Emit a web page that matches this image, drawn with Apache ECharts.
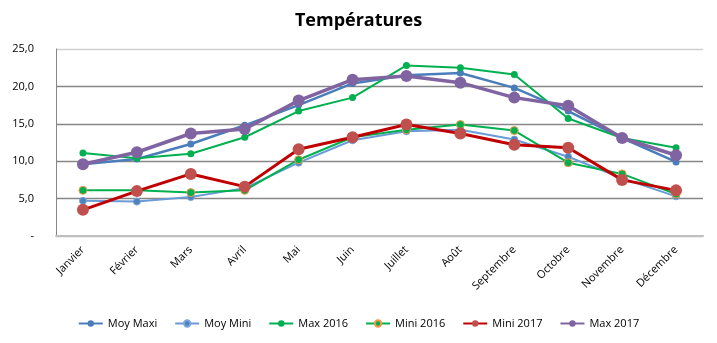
<!DOCTYPE html>
<html><head><meta charset="utf-8">
<script src="https://cdn.jsdelivr.net/npm/echarts@6/dist/echarts.min.js"></script>
<style>html,body{margin:0;padding:0;background:#fff}#c{width:717px;height:343px}</style>
</head><body><div id="c"></div>
<script>
const months = ['Janvier','Février','Mars','Avril','Mai','Juin','Juillet','Août','Septembre','Octobre','Novembre','Décembre'];
const moyMaxi = [9.6,10.3,12.3,14.8,17.5,20.4,21.5,21.8,19.8,16.7,13.1,9.9];
const moyMini = [4.7,4.6,5.2,6.4,9.8,12.8,14.0,14.2,12.9,10.6,7.7,5.3];
const max2016 = [11.1,10.4,11.0,13.2,16.7,18.5,22.8,22.5,21.6,15.7,13.1,11.8];
const mini2016 = [6.1,6.1,5.8,6.1,10.2,13.2,14.2,14.9,14.1,9.8,8.3,5.6];
const mini2017 = [3.5,6.0,8.3,6.6,11.6,13.2,14.9,13.7,12.2,11.8,7.5,6.1];
const max2017 = [9.6,11.2,13.7,14.3,18.1,20.9,21.4,20.5,18.5,17.4,13.1,10.8];
const yTicks = [0,5,10,15,20,25];

const chart = echarts.init(document.getElementById('c'), null, {renderer:'canvas'});
const font = 'Open Sans';
function s(name, data, color, lw, sym, extra) {
  return Object.assign({
    name, type:'line', data, symbol:'circle', symbolSize:sym,
    lineStyle:{color, width:lw}, itemStyle:{color},
    animation:false
  }, extra||{});
}
chart.setOption({
  animation:false,
  title:{text:'Températures', left:'center', top:7,
    textStyle:{fontFamily:font, fontSize:18, fontWeight:'bold', color:'#000'}},
  grid:{left:56, right:14, top:49, bottom:107},
  legend:{bottom:9, left:'center', itemWidth:24, itemHeight:8, itemGap:17,
    textStyle:{fontFamily:font, fontSize:11, color:'#000'},
    data:['Moy Maxi','Moy Mini','Max 2016','Mini 2016','Mini 2017','Max 2017']},
  xAxis:{type:'category', data:months, boundaryGap:true,
    axisLine:{show:true, lineStyle:{color:'#bfbfbf', width:2}},
    axisTick:{show:false},
    axisLabel:{rotate:45, fontFamily:font, fontSize:11, color:'#000', margin:12, interval:0}},
  yAxis:{type:'value', min:yTicks[0], max:yTicks[yTicks.length-1], interval:5,
    axisLine:{show:true, lineStyle:{color:'#868686', width:1}},
    axisTick:{show:false},
    axisLabel:{fontFamily:font, fontSize:11, color:'#000', margin:22,
      formatter:v => v===0 ? '-' : v.toFixed(1).replace('.',',')},
    splitLine:{show:true, lineStyle:{color:['#bfbfbf','#868686','#868686','#868686','#868686','#cfcfcf'], width:1.3}}},
  series:[
    s('Moy Maxi', moyMaxi, '#4a7ebb', 2.5, 7),
    s('Moy Mini', moyMini, '#6a9bd6', 2, 7, {itemStyle:{color:'#4f81bd', borderColor:'#7aa6da', borderWidth:1}}),
    s('Max 2016', max2016, '#00b050', 2, 7),
    s('Mini 2016', mini2016, '#00b050', 2, 8, {itemStyle:{color:'#00b050', borderColor:'#f79646', borderWidth:1}}),
    s('Mini 2017', mini2017, '#c00000', 3, 12, {itemStyle:{color:'#c0504d'}}),
    s('Max 2017', max2017, '#8064a2', 3.5, 12)
  ]
});
</script></body></html>
